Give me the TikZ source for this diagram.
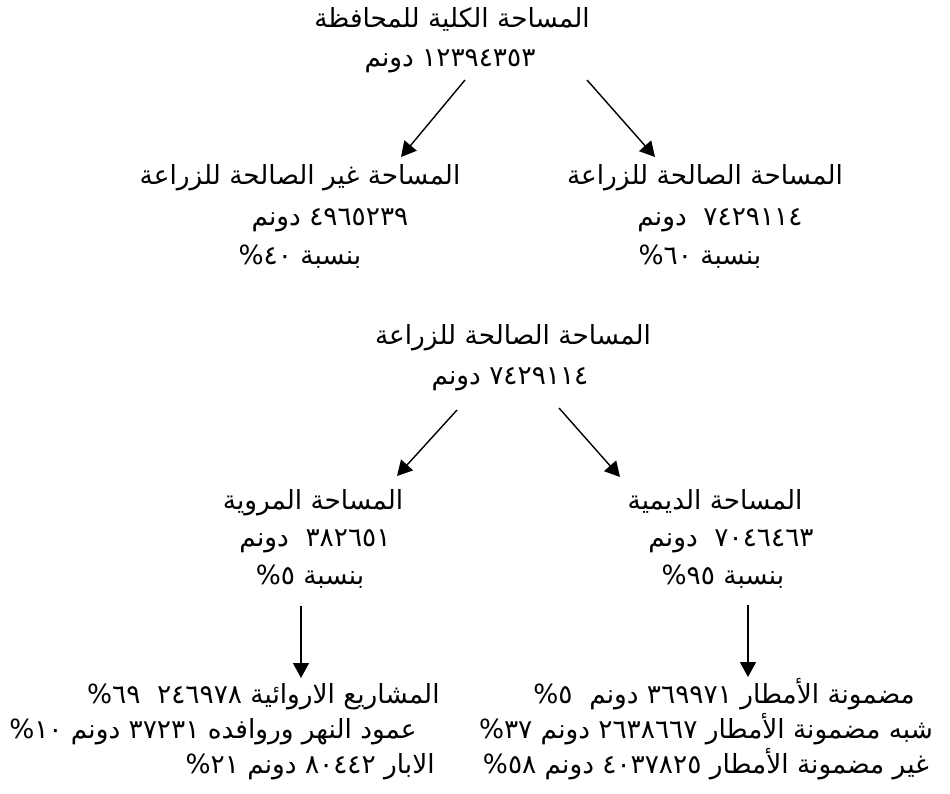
\documentclass[tikz,border=0pt]{standalone}
\usepackage{fontspec}
\usetikzlibrary{arrows.meta}
\TeXXeTstate=1
\newfontfamily\arabicfont[Script=Arabic]{DejaVu Sans}
\newcommand{\ar}[1]{\beginR #1\endR}

\begin{document}
\begin{tikzpicture}[x=0.02cm,y=-0.02cm,
  >={Triangle[length=3mm,width=3.2mm]},
  arr/.style={->,line width=0.8pt},
  txt/.style={inner sep=0pt,text height=11pt,text depth=4pt,
    font=\arabicfont\fontsize{15}{18}\selectfont}]
\useasboundingbox (0,0) rectangle (950,794);
% total area
\node[txt] (top1) at (452,21) {\ar{المساحة الكلية للمحافظة}};
\node[txt] (top2) at (450,60) {\ar{١٢٣٩٤٣٥٣ دونم}};
% unusable / usable
\node[txt] (bad1) at (300,178) {\ar{المساحة غير الصالحة للزراعة}};
\node[txt] (bad2) at (330,219) {\ar{٤٩٦٥٢٣٩ دونم}};
\node[txt] (bad3) at (300,258) {\ar{بنسبة ٤٠\%}};
\node[txt] (good1) at (705,178) {\ar{المساحة الصالحة للزراعة}};
\node[txt] (good2) at (720,219) {\ar{٧٤٢٩١١٤ \ دونم}};
\node[txt] (good3) at (700,258) {\ar{بنسبة ٦٠\%}};
% usable area again
\node[txt] (mid1) at (513,338) {\ar{المساحة الصالحة للزراعة}};
\node[txt] (mid2) at (510,378) {\ar{٧٤٢٩١١٤ دونم}};
% irrigated / rain-fed
\node[txt] (irr1) at (313,503) {\ar{المساحة المروية}};
\node[txt] (irr2) at (315,540) {\ar{٣٨٢٦٥١ \ دونم}};
\node[txt] (irr3) at (310,578) {\ar{بنسبة ٥\%}};
\node[txt] (rain1) at (715,503) {\ar{المساحة الديمية}};
\node[txt] (rain2) at (731,540) {\ar{٧٠٤٦٤٦٣ \ دونم}};
\node[txt] (rain3) at (723,578) {\ar{بنسبة ٩٥\%}};
% details
\node[txt,anchor=east] (irrA) at (440,697) {\ar{المشاريع الاروائية ٢٤٦٩٧٨ \ ٦٩\%}};
\node[txt,anchor=east] (irrB) at (417,732) {\ar{عمود النهر وروافده ٣٧٢٣١ دونم ١٠\%}};
\node[txt,anchor=east] (irrC) at (435,767) {\ar{الابار ٨٠٤٤٢ دونم ٢١\%}};
\node[txt,anchor=west] (rainA) at (533,697) {\ar{مضمونة الأمطار ٣٦٩٩٧١ دونم \ ٥\%}};
\node[txt] (rainB) at (706,732) {\ar{شبه مضمونة الأمطار ٢٦٣٨٦٦٧ دونم ٣٧\%}};
\node[txt] (rainC) at (706,767) {\ar{غير مضمونة الأمطار ٤٠٣٧٨٢٥ دونم ٥٨\%}};
% arrow ends
\coordinate (tl0) at (465,80);  \coordinate (tl1) at (401,157);
\coordinate (tr0) at (587,80);  \coordinate (tr1) at (655,157);
\coordinate (ml0) at (457,410); \coordinate (ml1) at (397,476);
\coordinate (mr0) at (559,408); \coordinate (mr1) at (620,477);
\coordinate (vl0) at (301,606); \coordinate (vl1) at (301,678);
\coordinate (vr0) at (748,605); \coordinate (vr1) at (748,677);
\draw[arr] (tl0) -- (tl1);
\draw[arr] (tr0) -- (tr1);
\draw[arr] (ml0) -- (ml1);
\draw[arr] (mr0) -- (mr1);
\draw[arr] (vl0) -- (vl1);
\draw[arr] (vr0) -- (vr1);
\end{tikzpicture}
\end{document}
